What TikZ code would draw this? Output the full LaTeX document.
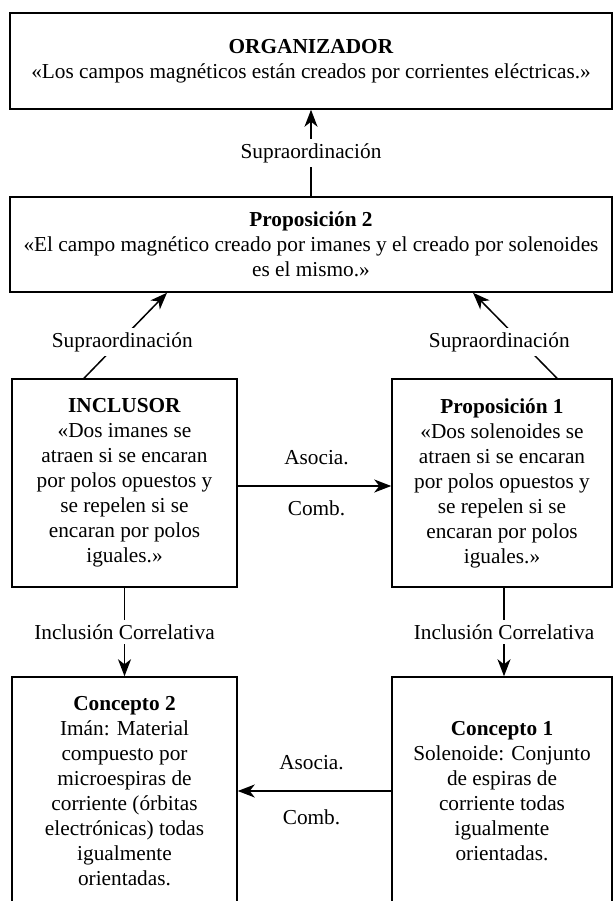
\documentclass[tikz,border=0pt]{standalone}
\usepackage{fontspec}
\setmainfont{Liberation Serif}
\usetikzlibrary{arrows.meta}
\tikzset{
  txt/.style={font={\fontsize{21.3}{25}\selectfont}, align=center, inner sep=0pt},
  box/.style={txt, draw=black, line width=1.5pt},
  lbl/.style={font={\fontsize{21.3}{25}\selectfont}, fill=white, inner sep=4pt},
  plain/.style={font={\fontsize{21.3}{25}\selectfont}, inner sep=0pt},
  conn/.style={line width=1.5pt, -{Stealth[length=17pt,width=13pt,inset=5pt]}}
}
\begin{document}
\begin{tikzpicture}[x=1pt,y=-1pt]
\useasboundingbox (0,0) rectangle (613,901);
\clip (0,0) rectangle (613,901);
\node[box, minimum width=602pt, minimum height=96pt] (org) at (311,61)
  {\textbf{ORGANIZADOR}\\«Los campos magnéticos están creados por corrientes eléctricas.»};
\node[box, minimum width=602pt, minimum height=95pt] (prop2) at (311,244.5)
  {\textbf{Proposición 2}\\«El campo magnético creado por imanes y el creado por solenoides\\es el mismo.»};
\node[box, minimum width=225pt, minimum height=208pt] (incl) at (124.5,483)
  {\textbf{INCLUSOR}\\«Dos imanes se\\atraen si se encaran\\por polos opuestos y\\se repelen si se\\encaran por polos\\iguales.»};
\node[box, minimum width=220pt, minimum height=208pt] (prop1) at (502,483)
  {\textbf{Proposición 1}\\«Dos solenoides se\\atraen si se encaran\\por polos opuestos y\\se repelen si se\\encaran por polos\\iguales.»};
\node[box, minimum width=225pt, minimum height=228pt] (con2) at (124.5,791)
  {\textbf{Concepto 2}\\Imán: Material\\compuesto por\\microespiras de\\corriente (órbitas\\electrónicas) todas\\igualmente\\orientadas.};
\node[box, minimum width=220pt, minimum height=228pt] (con1) at (502,791)
  {\textbf{Concepto 1}\\Solenoide: Conjunto\\de espiras de\\corriente todas\\igualmente\\orientadas.};

\draw[conn] (prop2.north) -- node[lbl] {Supraordinación} (org.south);
\draw[conn] ([xshift=-40.5pt]incl.north) -- node[lbl, pos=0.425, xshift=3pt] {Supraordinación} ([xshift=-144pt]prop2.south);
\draw[conn] ([xshift=55pt]prop1.north) -- node[lbl, pos=0.425, xshift=-22pt] {Supraordinación} ([xshift=162pt]prop2.south);
\draw[conn] (incl.south) -- node[lbl] {Inclusión Correlativa} (con2.north);
\draw[conn] ([xshift=2pt]prop1.south) -- node[lbl] {Inclusión Correlativa} ([xshift=2pt]con1.north);
\draw[conn] ([yshift=-3pt]incl.east) -- node[plain, yshift=28pt, xshift=2pt] {Asocia.} node[plain, yshift=-22pt, xshift=2pt] {Comb.} ([yshift=-3pt]prop1.west);
\draw[conn] (con1.west) -- node[plain, yshift=28pt, xshift=-3pt] {Asocia.} node[plain, yshift=-26pt, xshift=-3pt] {Comb.} (con2.east);
\end{tikzpicture}
\end{document}
